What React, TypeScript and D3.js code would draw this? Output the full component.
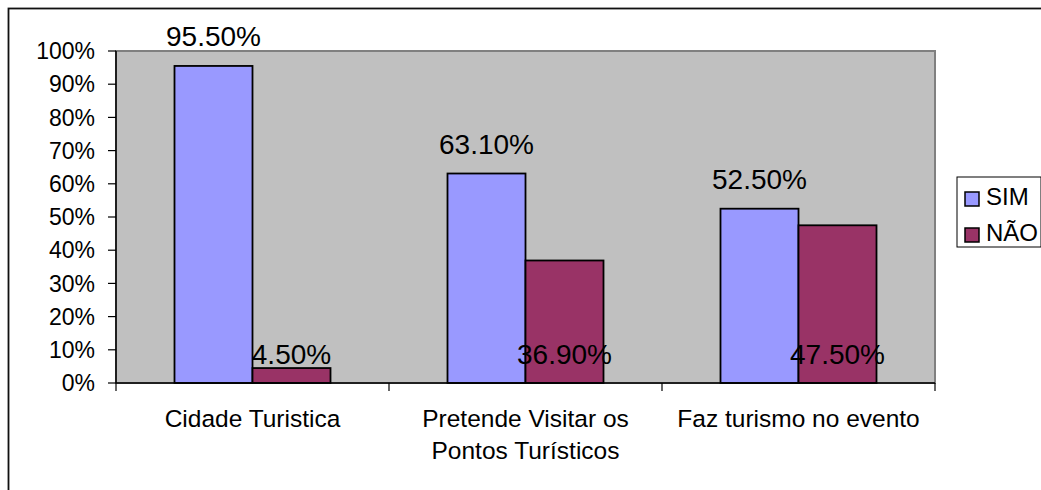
import React from "react";
import * as d3 from "d3";

const categories: string[][] = [
  ["Cidade Turistica"],
  ["Pretende Visitar os", "Pontos Turísticos"],
  ["Faz turismo no evento"],
];
const seriesNames = ["SIM", "NÃO"];
const simValues = [95.5, 63.1, 52.5];
const naoValues = [4.5, 36.9, 47.5];
const yTicks = [0, 10, 20, 30, 40, 50, 60, 70, 80, 90, 100];
const colors = ["#9999FF", "#993366"];

const FONT = "'Liberation Sans', Arial, sans-serif";

export default function App() {
  const W = 1041;
  const H = 490;
  const plot = { left: 116, top: 51, right: 935, bottom: 383 };
  const x = d3
    .scaleBand<number>()
    .domain(categories.map((_, i) => i))
    .range([plot.left, plot.right])
    .padding(0);
  const step = x.step();
  const groupW = (step * 2) / 3.5;
  const xs = d3
    .scaleBand<string>()
    .domain(seriesNames)
    .range([0, groupW])
    .padding(0);
  const y = d3.scaleLinear().domain([0, 100]).range([plot.bottom, plot.top]);
  const series = [simValues, naoValues];
  const boundaries = [...categories.map((_, i) => x(i)!), plot.right];

  return (
    <svg
      width={W}
      height={H}
      style={{ position: "absolute", left: 0, top: 0, background: "#fff" }}
      fontFamily={FONT}
    >
      <rect x={8.5} y={8.5} width={1100} height={600} fill="#fff" stroke="#111" strokeWidth={1.8} />
      <rect
        x={plot.left}
        y={plot.top}
        width={plot.right - plot.left}
        height={plot.bottom - plot.top}
        fill="#C0C0C0"
        stroke="#808080"
        strokeWidth={2}
      />
      {series.map((vals, si) =>
        vals.map((v, ci) => {
          const bx = x(ci)! + (step - groupW) / 2 + xs(seriesNames[si])!;
          return (
            <rect
              key={`b${si}-${ci}`}
              x={bx}
              y={y(v)}
              width={xs.bandwidth()}
              height={y(0) - y(v)}
              fill={colors[si]}
              stroke="#000"
              strokeWidth={1.8}
            />
          );
        })
      )}
      {/* axes */}
      <line x1={plot.left} x2={plot.left} y1={plot.top} y2={plot.bottom} stroke="#000" strokeWidth={1.5} />
      <line x1={plot.left} x2={plot.right} y1={plot.bottom} y2={plot.bottom} stroke="#000" strokeWidth={1.5} />
      {yTicks.map((t) => (
        <g key={`yt${t}`}>
          <line x1={plot.left - 8} x2={plot.left} y1={y(t)} y2={y(t)} stroke="#000" strokeWidth={1.2} />
          <text x={95} y={y(t)} dy="0.36em" textAnchor="end" fontSize={23} fill="#000">
            {t}%
          </text>
        </g>
      ))}
      {boundaries.map((bx, i) => (
        <line key={`xt${i}`} x1={bx} x2={bx} y1={plot.bottom} y2={plot.bottom + 8} stroke="#000" strokeWidth={1.2} />
      ))}
      {categories.map((lines, ci) => (
        <text key={`c${ci}`} x={x(ci)! + step / 2} y={427} textAnchor="middle" fontSize={24.5} fill="#000">
          {lines.map((l, li) => (
            <tspan key={li} x={x(ci)! + step / 2} dy={li === 0 ? 0 : 32}>
              {l}
            </tspan>
          ))}
        </text>
      ))}
      {/* data labels */}
      {simValues.map((v, ci) => {
        const cx = x(ci)! + (step - groupW) / 2 + xs("SIM")! + xs.bandwidth() / 2;
        return (
          <text key={`ls${ci}`} x={cx} y={y(v) - 20} textAnchor="middle" fontSize={28} fill="#000">
            {v.toFixed(2)}%
          </text>
        );
      })}
      {naoValues.map((v, ci) => {
        const cx = x(ci)! + (step - groupW) / 2 + xs("NÃO")! + xs.bandwidth() / 2;
        return (
          <text key={`ln${ci}`} x={cx} y={364} textAnchor="middle" fontSize={28} fill="#000">
            {v.toFixed(2)}%
          </text>
        );
      })}
      {/* legend */}
      <rect x={957} y={177} width={84} height={70} fill="#fff" stroke="#000" strokeWidth={1} />
      {seriesNames.map((n, i) => (
        <g key={`lg${i}`}>
          <rect x={965} y={192 + i * 36} width={14} height={14} fill={colors[i]} stroke="#000" strokeWidth={1.5} />
          <text x={986} y={205 + i * 36} fontSize={24} fill="#000">
            {n}
          </text>
        </g>
      ))}
    </svg>
  );
}
